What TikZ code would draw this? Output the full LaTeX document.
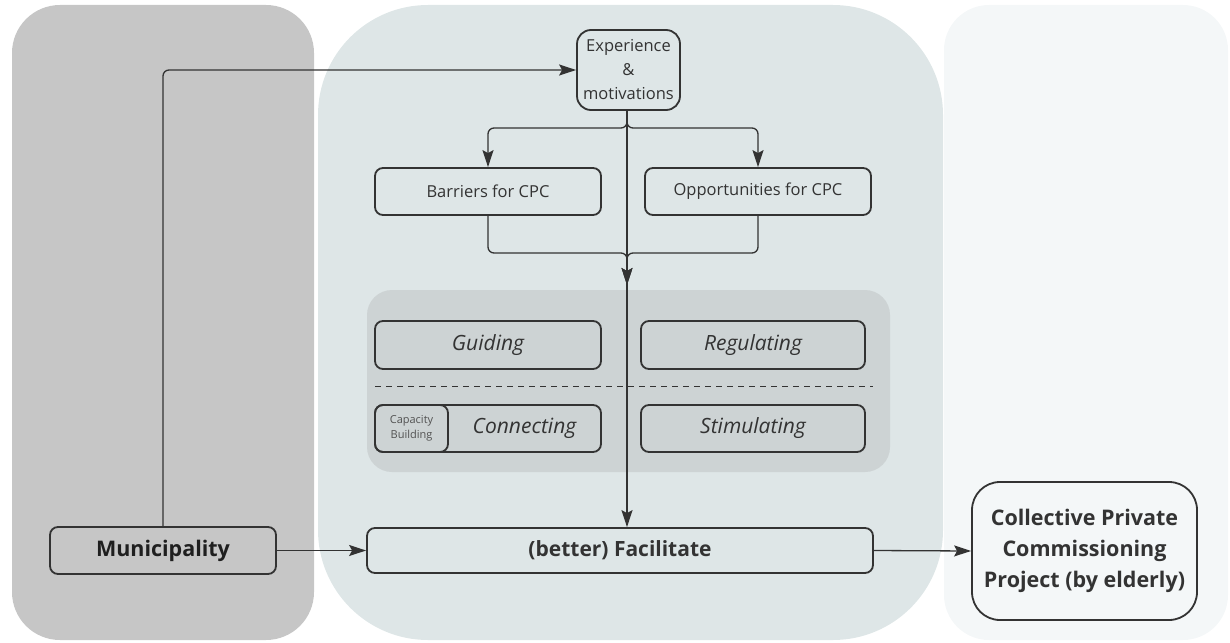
\documentclass[tikz,border=0pt]{standalone}
\usepackage{fontspec}
\setmainfont{Open Sans}
\usetikzlibrary{arrows.meta}

\definecolor{leftpanel}{HTML}{C6C6C6}
\definecolor{midpanel}{HTML}{DEE6E7}
\definecolor{rightpanel}{HTML}{F4F7F8}
\definecolor{innerpanel}{HTML}{CDD3D4}
\definecolor{linec}{HTML}{333333}
\definecolor{txt}{HTML}{333333}

\tikzset{
  fbox/.style={draw=linec, line width=1.8pt, rounded corners=8pt, inner sep=0pt,
    minimum height=47pt, text=txt, align=center, font=\fontsize{16.5}{20}\selectfont},
  italbox/.style={fbox, font=\fontsize{21}{24}\selectfont\itshape},
  boldbox/.style={fbox, font=\fontsize{20}{24}\selectfont\bfseries},
  conn/.style={draw=linec, line width=1.3pt, rounded corners=6pt},
  arr/.style={conn, -{Stealth[length=17pt,width=11pt,inset=3pt]}},
}

\begin{document}
\begin{tikzpicture}[x=1pt,y=-1pt]
\useasboundingbox (0,0) rectangle (1230,642);

% background panels
\fill[leftpanel, rounded corners=48pt] (12,5) rectangle (314,640);
\fill[midpanel, rounded corners=110pt] (318,5) rectangle (943,640);
\fill[rightpanel, rounded corners=45pt] (944,5) rectangle (1228,640);
\fill[innerpanel, rounded corners=25pt] (367,290) rectangle (890,472);

% dashed separator between the facilitation modes
\draw[linec, line width=0.9pt, dash pattern=on 6pt off 5pt] (375,386) -- (873,386);

% nodes
\node[fbox, rounded corners=14pt, minimum width=103pt, minimum height=80pt,
      font=\fontsize{16.5}{24}\selectfont] (exp) at (628.5,70) {Experience\\\&\\motivations};
\node[fbox, minimum width=226pt] (bar) at (488,191.5) {Barriers for CPC};
\node[fbox, minimum width=226pt] (opp) at (758,191.5) {Opportunities for CPC};

\node[italbox, minimum width=226pt, minimum height=48pt] (gui) at (488,345) {Guiding};
\node[italbox, minimum width=224pt, minimum height=48pt] (reg) at (753,345) {Regulating};
\node[fbox, minimum width=226pt] (con) at (488,428.5) {};
\node[fbox, minimum width=73pt, anchor=west, font=\fontsize{11}{15}\selectfont,
      text=txt!85] (cap) at (con.west) {Capacity\\Building};
\node[text=txt, font=\fontsize{21}{24}\selectfont\itshape] (contxt) at (524.5,428.5) {Connecting};
\node[italbox, minimum width=224pt] (sti) at (753,428.5) {Stimulating};

\node[boldbox, minimum width=226pt, text=black!88,
      font=\fontsize{21.5}{24}\selectfont\bfseries] (mun) at (163,550.5) {Municipality};
\node[boldbox, minimum width=506pt, minimum height=45pt,
      font=\fontsize{21}{24}\selectfont\bfseries] (fac) at (620,550.5) {(better) Facilitate};
\node[boldbox, rounded corners=28pt, minimum width=225pt, minimum height=138pt,
      font=\fontsize{21.5}{31}\selectfont\bfseries] (col) at (1084.5,551)
      {Collective Private\\Commissioning\\Project (by elderly)};

% connectors
\coordinate (split) at (627,128);
\coordinate (merge) at (627,285);
\draw[arr] (mun.north) |- (exp.west);
\draw[arr] (exp.south -| split) -- (split) -| (bar.north);
\draw[arr] (exp.south -| split) -- (split) -| (opp.north);
\draw[arr] (bar.south) |- (627,253) -- (merge);
\draw[arr] (opp.south) |- (627,253) -- (merge);
\draw[arr, rounded corners=0pt] (exp.south -| split) -- (split |- fac.north);
\draw[arr] (mun.east) -- (fac.west);
\draw[arr] (fac.east) -- (col.west);
\end{tikzpicture}
\end{document}
